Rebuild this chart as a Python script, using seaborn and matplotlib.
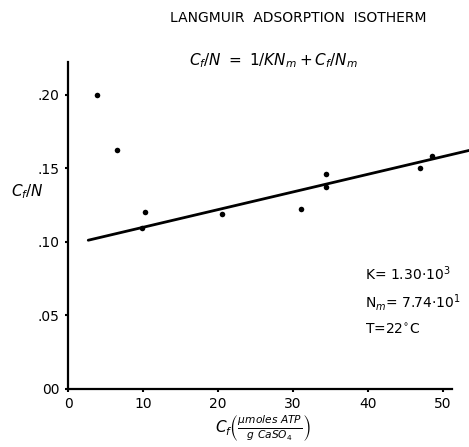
import pandas as pd
import matplotlib.pyplot as plt
import seaborn as sns

# measured points (C_f, C_f/N)
c_free = [3.9, 6.5, 10.3, 9.9, 20.5, 31.1, 34.4, 34.4, 46.9, 48.5]
c_over_n = [0.200, 0.162, 0.120, 0.109, 0.119, 0.122, 0.146, 0.137, 0.150, 0.158]

# fitted straight line end points
fit_x = [2.7, 53.5]
fit_y = [0.101, 0.162]

x_ticks = [0, 10, 20, 30, 40, 50]
x_ticklabels = ["0", "10", "20", "30", "40", "50"]
y_ticks = [0.00, 0.05, 0.10, 0.15, 0.20]
y_ticklabels = ["00", ".05", ".10", ".15", ".20"]

df = pd.DataFrame({"cf": c_free, "cfn": c_over_n})
df_fit = pd.DataFrame({"cf": fit_x, "cfn": fit_y})

sns.set_style("ticks")
plt.rcParams.update(
    {
        "font.family": ["DejaVu Sans"],
        "font.size": 10,
        "xtick.labelsize": 10,
        "ytick.labelsize": 10,
        "text.color": "black",
        "xtick.color": "black",
        "ytick.color": "black",
        "axes.edgecolor": "black",
        "axes.labelcolor": "black",
    }
)

fig = plt.figure(figsize=(4.69, 4.47), dpi=100)
ax = fig.add_axes([0.145, 0.130, 0.855, 0.731])

sns.lineplot(data=df_fit, x="cf", y="cfn", color="black", linewidth=2.0, ax=ax)
sns.scatterplot(
    data=df, x="cf", y="cfn", color="black", s=16, edgecolor="black", linewidth=0, ax=ax, zorder=5
)

ax.set_xlim(0, 53.5)
ax.set_ylim(0, 0.222)
ax.set_xticks(x_ticks, x_ticklabels)
ax.set_yticks(y_ticks, y_ticklabels)
ax.tick_params(length=2, width=1.5, pad=4)
ax.set_xlabel("")
ax.set_ylabel("")

sns.despine(ax=ax)
for side in ["left", "bottom"]:
    ax.spines[side].set_linewidth(1.6)
ax.spines["bottom"].set_bounds(0, 51.2)

# annotations
fig.text(298 / 469, 1 - 18 / 447, "LANGMUIR  ADSORPTION  ISOTHERM", ha="center", va="center", fontsize=10)
fig.text(273 / 469, 1 - 61 / 447, r"$C_f/N\ =\ 1/KN_m + C_f/N_m$", ha="center", va="center", fontsize=11)
fig.text(27 / 469, 1 - 192 / 447, r"$C_f/N$", ha="center", va="center", fontsize=11)
fig.text(
    263 / 469,
    1 - 428 / 447,
    r"$C_f\left(\frac{\mu moles\ ATP}{g\ CaSO_4}\right)$",
    ha="center",
    va="center",
    fontsize=11,
)

ax.text(39.6, 0.078, r"K= 1.30$\cdot$10$^{3}$", ha="left", va="center", fontsize=10)
ax.text(39.6, 0.059, r"N$_m$= 7.74$\cdot$10$^{1}$", ha="left", va="center", fontsize=10)
ax.text(39.6, 0.040, r"T=22$^{\circ}$C", ha="left", va="center", fontsize=10)

fig.savefig("out.png", dpi=100)
